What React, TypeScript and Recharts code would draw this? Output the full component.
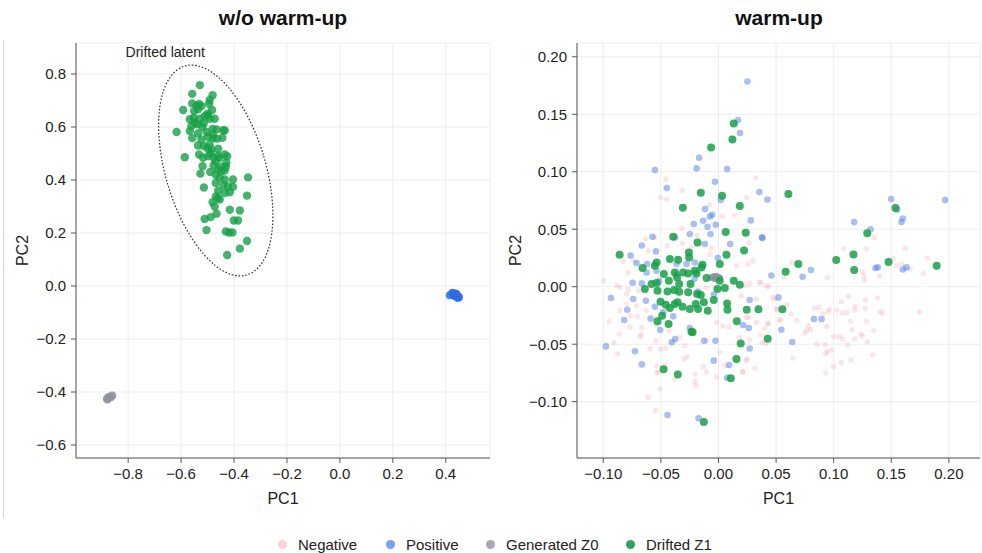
import React from 'react';
import {
  ScatterChart,
  Scatter,
  XAxis,
  YAxis,
  CartesianGrid,
  ReferenceDot,
  Label,
} from 'recharts';

// ---- left panel (w/o warm-up) ----
const leftDrifted: [number, number][] = [
  [-0.529, 0.758], [-0.558, 0.725], [-0.481, 0.72], [-0.592, 0.664], [-0.558, 0.689], [-0.532, 0.687],
  [-0.523, 0.679], [-0.542, 0.679], [-0.492, 0.702], [-0.494, 0.688], [-0.483, 0.664], [-0.551, 0.66],
  [-0.536, 0.667], [-0.567, 0.629], [-0.552, 0.635], [-0.529, 0.631], [-0.511, 0.641], [-0.498, 0.644],
  [-0.492, 0.631], [-0.473, 0.631], [-0.561, 0.604], [-0.548, 0.616], [-0.54, 0.61], [-0.514, 0.614],
  [-0.617, 0.581], [-0.567, 0.585], [-0.536, 0.576], [-0.504, 0.581], [-0.481, 0.593], [-0.466, 0.591],
  [-0.441, 0.588], [-0.435, 0.587], [-0.558, 0.558], [-0.523, 0.553], [-0.498, 0.563], [-0.479, 0.558],
  [-0.464, 0.556], [-0.444, 0.559], [-0.536, 0.53], [-0.514, 0.528], [-0.492, 0.534], [-0.485, 0.515],
  [-0.46, 0.518], [-0.586, 0.486], [-0.532, 0.496], [-0.517, 0.484], [-0.498, 0.49], [-0.489, 0.5],
  [-0.477, 0.484], [-0.46, 0.492], [-0.454, 0.484], [-0.435, 0.496], [-0.426, 0.49], [-0.519, 0.452],
  [-0.477, 0.455], [-0.46, 0.439], [-0.429, 0.465], [-0.431, 0.45], [-0.527, 0.424], [-0.469, 0.42],
  [-0.448, 0.433], [-0.435, 0.436], [-0.454, 0.408], [-0.435, 0.402], [-0.404, 0.402], [-0.347, 0.41],
  [-0.469, 0.389], [-0.514, 0.372], [-0.423, 0.376], [-0.404, 0.374], [-0.469, 0.338], [-0.46, 0.332],
  [-0.435, 0.351], [-0.416, 0.354], [-0.351, 0.341], [-0.481, 0.316], [-0.473, 0.3], [-0.454, 0.326],
  [-0.466, 0.273], [-0.488, 0.26], [-0.511, 0.253], [-0.416, 0.288], [-0.378, 0.285], [-0.401, 0.247],
  [-0.385, 0.247], [-0.504, 0.211], [-0.431, 0.206], [-0.419, 0.202], [-0.406, 0.202], [-0.351, 0.17],
  [-0.378, 0.141], [-0.426, 0.117], [-0.5, 0.65], [-0.52, 0.6], [-0.48, 0.57], [-0.5, 0.52],
  [-0.47, 0.47], [-0.45, 0.45], [-0.49, 0.43], [-0.44, 0.38], [-0.46, 0.36],
];
const leftPositive: [number, number][] = [
  [0.415, -0.035], [0.425, -0.025], [0.43, -0.03], [0.435, -0.035], [0.44, -0.04], [0.445, -0.045],
  [0.44, -0.03], [0.437, -0.028], [0.445, -0.038], [0.45, -0.042], [0.432, -0.038], [0.428, -0.03],
];
const leftGenerated: [number, number][] = [
  [-0.88, -0.425], [-0.875, -0.42], [-0.87, -0.418], [-0.86, -0.413], [-0.878, -0.428], [-0.865, -0.42],
];

// ---- right panel (warm-up) ----
const rightNegative: [number, number][] = [
  [-0.0457, 0.0937], [-0.0503, 0.0774], [-0.0451, 0.0759], [-0.0315, 0.0835], [-0.0078, 0.0713], [0.0035, 0.0611],
  [0.0141, 0.0623], [0.0243, 0.0777], [0.0323, 0.0945], [-0.0318, 0.0507], [-0.0185, 0.0446],
  [0.1086, 0.0333], [0.1282, 0.0328], [0.1354, 0.0429], [0.1623, 0.0333], [0.1816, 0.0249], [0.0638, 0.0211],
  [0.1513, 0.0241], [0.1548, 0.0183], [0.1591, 0.0197], [0.1664, 0.0154], [0.1779, 0.0116], [0.1248, 0.013],
  [0.1262, 0.0096], [0.1268, 0.0058], [0.1398, 0.0096], [0.0945, 0.0081], [0.0566, 0.0087], [0.0438, 0.0],
  [0.0358, 0.0037], [0.0468, -0.0093], [0.0594, -0.0157], [0.0511, -0.0203], [0.0633, -0.0237], [0.1129, -0.0084],
  [0.1383, -0.0098], [0.1276, -0.0116], [0.1066, -0.0128], [0.1187, -0.0171], [0.1274, -0.0189], [0.0834, -0.0189],
  [0.0872, -0.018], [0.0964, -0.0197], [0.1028, -0.0203], [0.0906, -0.0237], [0.095, -0.0217], [0.1075, -0.0229],
  [0.1115, -0.0223], [0.1184, -0.0203], [0.1406, -0.0217], [0.1421, -0.0232], [0.1744, -0.0223], [0.054, -0.0281],
  [0.0681, -0.0296], [0.078, -0.0339], [0.0763, -0.0383], [0.0797, -0.0374], [0.0748, -0.0403], [0.0941, -0.0348],
  [0.1149, -0.0301], [0.1282, -0.0301], [0.1161, -0.0374], [0.1349, -0.0383], [0.1236, -0.0412], [0.1248, -0.0429],
  [0.0999, -0.0435], [0.1045, -0.0432], [0.1075, -0.0455], [0.1123, -0.0507], [0.1181, -0.0455], [0.1291, -0.0476],
  [0.0927, -0.0504], [0.0854, -0.0498], [0.0979, -0.055], [0.0945, -0.0563], [0.093, -0.058], [0.1153, -0.0637],
  [0.1066, -0.0661], [0.134, -0.0591], [0.0999, -0.0693], [0.093, -0.075], [0.0646, -0.062], [0.0401, -0.0362],
  [0.043, -0.0319], [0.0373, -0.042], [0.041, -0.0493],
  [-0.0535, -0.0748], [-0.0509, -0.089], [-0.0379, -0.0806], [-0.0203, -0.0759], [-0.0203, -0.0823], [-0.0104, -0.0742],
  [-0.0017, -0.0785], [0.0213, -0.0739], [-0.0549, -0.1076],
  [-0.063, 0.0415], [-0.0552, 0.0429], [-0.0445, 0.0357], [-0.0312, 0.0377], [-0.0234, 0.0342], [-0.0061, 0.0336],
  [0.0265, 0.038], [0.0295, 0.0226], [-0.0827, 0.022], [-0.0734, 0.0226], [-0.061, 0.0313], [-0.0783, 0.0124],
  [-0.0884, 0.0009], [-0.0855, -0.0006], [-0.0783, -0.002], [-0.0797, -0.0064], [-0.0697, -0.0035], [-0.0855, -0.0209],
  [-0.0797, -0.015], [-0.0711, -0.0165], [-0.0705, -0.0261], [-0.0624, -0.0209], [-0.0769, -0.0354], [-0.0861, -0.0412],
  [-0.0907, -0.0487], [-0.0875, -0.0585], [-0.0682, -0.0435], [-0.0671, -0.0417], [-0.0595, -0.0542], [-0.0543, -0.047],
  [-0.0503, -0.0542], [-0.0457, -0.0533], [-0.0537, -0.0333], [-0.0428, -0.0383], [-0.0335, -0.0441], [-0.0292, -0.0513],
  [-0.0269, -0.0609], [-0.0537, -0.0687], [-0.0523, -0.0745], [-0.0133, -0.0696], [-0.0104, -0.047], [0.0011, -0.0571],
  [0.0055, -0.0687], [0.0092, -0.0354], [0.004, -0.0339], [-0.0017, -0.031], [0.0243, -0.0267], [0.0265, -0.0267],
  [0.0329, -0.031], [0.0185, -0.0441], [0.0271, -0.0464], [0.0381, -0.0484], [0.0243, -0.0643], [0.0248, -0.0629],
  [0.0208, -0.0737], [0.0315, -0.071], [0.043, -0.0325], [0.0364, 0.0037], [0.0271, 0.0029], [0.0228, 0.0015],
  [0.0416, 0.0009], [0.0199, -0.0078], [0.0329, -0.0107], [0.0503, -0.0194], [-0.0205, -0.0064], [-0.0104, -0.0006],
  [-0.0509, 0.0081], [-0.0667, -0.0354], [-0.0465, -0.0687], [-0.0197, -0.0861], [-0.0301, -0.0629], [-0.061, -0.0963],
  [-0.0075, 0.0284], [0.0156, 0.0183], [0.0256, 0.0197], [-0.0763, -0.0252], [0.0531, -0.0296], [0.0488, -0.0107],
  [-0.095, -0.03], [-0.1, 0.005],
];
const rightPositive: [number, number][] = [
  [0.0251, 0.1785], [0.017, 0.145], [0.0187, 0.1337], [-0.0168, 0.1122], [-0.019, 0.1029], [0.0075, 0.1023],
  [-0.0552, 0.1015], [-0.0448, 0.0858], [-0.003, 0.0913], [0.0355, 0.0823], [0.0425, 0.0759], [0.002, 0.0754],
  [-0.0116, 0.0675], [-0.0055, 0.0626], [-0.0075, 0.0611], [-0.0133, 0.0574], [0.028, 0.0577], [-0.0214, 0.0545],
  [-0.0095, 0.0522], [-0.0023, 0.0539], [-0.0573, 0.0435], [-0.0376, 0.0429], [-0.0249, 0.0458], [-0.0069, 0.0458],
  [0.0378, 0.0429], [-0.0665, 0.0359], [-0.0119, 0.0371], [0.0101, 0.0371], [-0.0763, 0.027], [-0.0711, 0.0206],
  [-0.0619, 0.0197], [-0.0543, 0.0307], [-0.0364, 0.0197], [-0.0277, 0.0197], [-0.0205, 0.0211], [-0.0006, 0.025],
  [-0.0624, 0.0124], [-0.0537, 0.0139], [-0.0364, 0.011], [-0.0208, 0.0067], [-0.0041, 0.009], [0.0459, 0.0098],
  [-0.0745, 0.0035], [-0.0665, 0.0029], [-0.0517, 0.0046], [-0.0933, -0.0098], [-0.074, -0.0107], [-0.063, -0.0122],
  [-0.0177, -0.0041], [-0.0041, -0.007], [0.0271, -0.0116], [0.052, -0.0093], [-0.0792, -0.02], [-0.0552, -0.0174],
  [-0.048, -0.0223], [-0.0818, -0.029], [-0.0589, -0.0278], [-0.0393, -0.0258], [-0.0506, -0.0377], [-0.0249, -0.0359],
  [0.0213, -0.0333], [0.0263, -0.0359], [0.0546, -0.0374], [-0.0376, -0.0455], [-0.0405, -0.0484], [-0.0125, -0.047],
  [-0.0026, -0.047], [-0.0977, -0.0519], [-0.0725, -0.0562], [0.0271, -0.0537], [-0.0665, -0.0676], [-0.0041, -0.0643],
  [0.0092, -0.0681], [0.0075, -0.0792], [-0.0442, -0.1116], [-0.0173, -0.1145],
  [0.1499, 0.0763], [0.1967, 0.0754], [0.1551, 0.067], [0.16, 0.0594], [0.1588, 0.0562], [0.1178, 0.0562],
  [0.132, 0.0499], [0.0381, 0.0423], [0.0803, 0.0145], [0.073, 0.0087], [0.1363, 0.0163], [0.1383, 0.0168],
  [0.16, 0.015], [0.1632, 0.0168], [0.0829, -0.0281], [0.0895, -0.0281], [0.0641, -0.0481],
];
const rightGenerated: [number, number][] = [
  [-0.006, 0.008], [-0.004, 0.0085], [-0.002, 0.009], [0.0, 0.008], [0.001, 0.0075], [-0.003, 0.007],
];
const rightDrifted: [number, number][] = [
  [0.0133, 0.142], [0.0121, 0.128], [-0.0064, 0.1211], [-0.0153, 0.0817], [0.0031, 0.0791], [-0.0309, 0.0687],
  [0.0185, 0.0702], [0.0063, 0.0476], [0.0237, 0.047], [0.0607, 0.0806], [-0.0393, 0.0435], [-0.0182, 0.0385],
  [0.0222, 0.0316], [-0.0858, 0.0278], [-0.0257, 0.0298], [-0.0255, 0.0255], [-0.0422, 0.0241], [-0.035, 0.0235],
  [-0.0537, 0.0211], [-0.0659, 0.0163], [-0.0552, 0.0183], [-0.0139, 0.0191], [-0.0147, 0.0168], [0.0011, 0.0197],
  [0.0069, 0.0278], [-0.0474, 0.011], [-0.0379, 0.0124], [-0.0307, 0.0124], [-0.0205, 0.0139], [-0.0359, 0.0081],
  [-0.0263, 0.0116], [-0.0191, 0.0116], [-0.0431, 0.0052], [-0.0341, 0.0023], [-0.0243, 0.0023], [-0.0104, 0.0076],
  [0.0011, 0.0052], [0.0133, 0.0052], [0.0185, 0.0017], [0.0583, 0.013], [-0.0581, 0.0023], [-0.0537, 0.0032],
  [-0.0639, -0.002], [-0.0529, -0.0035], [-0.0442, -0.0041], [-0.0385, -0.0029], [-0.0341, -0.0043], [-0.0263, -0.0049],
  [-0.0185, -0.0064], [-0.0009, -0.002], [0.0055, -0.0012], [-0.0153, -0.0073], [-0.0503, -0.013], [-0.0457, -0.0157],
  [-0.0379, -0.0151], [-0.0355, -0.0136], [-0.0312, -0.0174], [-0.0197, -0.0151], [-0.0127, -0.0136], [-0.0041, -0.0116],
  [0.0075, -0.0145], [-0.0422, -0.0186], [-0.0249, -0.0194], [-0.0177, -0.0194], [-0.0093, -0.0209], [0.0078, -0.02],
  [0.0245, -0.02], [0.0347, -0.0197], [0.0555, -0.0197], [-0.0489, -0.0252], [-0.0529, -0.0301], [-0.0433, -0.0325],
  [0.0159, -0.0301], [-0.0234, -0.0391], [-0.0225, -0.0397], [0.0427, -0.0452], [0.0193, -0.0493], [0.0156, -0.0629],
  [-0.0477, -0.0719], [-0.0353, -0.0763], [0.0107, -0.0797], [-0.0127, -0.1177],
  [0.1536, 0.0684], [0.1291, 0.0464], [0.1172, 0.0281], [0.1022, 0.0232], [0.1178, 0.0145], [0.1476, 0.0215],
  [0.1894, 0.0183], [0.0693, 0.0197],
];

// axis ticks
const leftXTicks = [-0.8, -0.6, -0.4, -0.2, 0, 0.2, 0.4];
const leftYTicks = [-0.6, -0.4, -0.2, 0, 0.2, 0.4, 0.6, 0.8];
const rightXTicks = [-0.1, -0.05, 0, 0.05, 0.1, 0.15, 0.2];
const rightYTicks = [-0.1, -0.05, 0, 0.05, 0.1, 0.15, 0.2];

const legendItems = [
  { name: 'Negative', color: '#f9d3d5' },
  { name: 'Positive', color: '#7b9ef0' },
  { name: 'Generated Z0', color: '#a5aab3' },
  { name: 'Drifted Z1', color: '#2da55b' },
];

const FONT = '"Liberation Sans", Arial, Helvetica, sans-serif';
const toPts = (arr: [number, number][]) => arr.map(([x, y]) => ({ x, y }));
const fmt = (d: number) => (v: number) => v.toFixed(d).replace('-', '\u2212');

const dot = (r: number, fill: string, op: number) => (p: any) =>
  <circle cx={p.cx} cy={p.cy} r={r} fill={fill} fillOpacity={op} />;

const axisProps = {
  stroke: '#555',
  tickSize: 5,
  tickMargin: 5,
  tick: { fill: '#222', fontSize: 15, fontFamily: FONT },
};

const PanelLabelY = ({ dx }: { dx: number }) => (
  <Label
    value="PC2"
    angle={-90}
    position="insideLeft"
    offset={dx}
    style={{ textAnchor: 'middle', fill: '#222', fontSize: 16, fontFamily: FONT }}
  />
);

export default function App() {
  return (
    <div style={{ position: 'absolute', left: 0, top: 0, width: 982, height: 553, background: '#fff', fontFamily: FONT, overflow: 'hidden' }}>
      <div style={{ position: 'absolute', left: 3, top: 40, width: 1, height: 478, background: '#d4d4d4' }} />
      <div style={{ position: 'absolute', left: 183, top: 6, width: 200, textAlign: 'center', fontSize: 21, fontWeight: 'bold', color: '#111' }}>w/o warm-up</div>
      <div style={{ position: 'absolute', left: 679, top: 6, width: 200, textAlign: 'center', fontSize: 21, fontWeight: 'bold', color: '#111' }}>warm-up</div>

      <div style={{ position: 'absolute', left: 0, top: 0 }}>
        <ScatterChart width={500} height={520} margin={{ top: 43, right: 10, bottom: 12, left: 0 }}>
          <CartesianGrid stroke="#ededed" />
          <XAxis type="number" dataKey="x" domain={[-0.997, 0.567]} ticks={leftXTicks} tickFormatter={fmt(1)}
            allowDataOverflow height={50} {...axisProps}>
            <Label value="PC1" position="insideBottom" offset={4} style={{ fill: '#222', fontSize: 16, fontFamily: FONT }} />
          </XAxis>
          <YAxis type="number" dataKey="y" domain={[-0.649, 0.917]} ticks={leftYTicks} tickFormatter={fmt(1)}
            allowDataOverflow width={76} {...axisProps}>
            {PanelLabelY({ dx: 22 })}
          </YAxis>
          <Scatter data={toPts(leftPositive)} isAnimationActive={false} shape={dot(4, '#2e6be4', 0.85)} />
          <Scatter data={toPts(leftGenerated)} isAnimationActive={false} shape={dot(4, '#8e939d', 0.85)} />
          <Scatter data={toPts(leftDrifted)} isAnimationActive={false} shape={dot(4.2, '#17a046', 0.8)} />
          <ReferenceDot x={-0.469} y={0.436} r={1} isFront
            shape={(p: any) => (
              <ellipse cx={p.cx} cy={p.cy} rx={50} ry={109} transform={`rotate(-16.6 ${p.cx} ${p.cy})`}
                fill="none" stroke="#1f3447" strokeWidth={1.2} strokeDasharray="1.6 1.8" />
            )} />
          <ReferenceDot x={-0.66} y={0.883} r={1}
            shape={(p: any) => (
              <text x={p.cx} y={p.cy + 5} textAnchor="middle" fontSize={14} fill="#222" fontFamily={FONT}>Drifted latent</text>
            )} />
        </ScatterChart>
      </div>

      <div style={{ position: 'absolute', left: 500, top: 0 }}>
        <ScatterChart width={482} height={520} margin={{ top: 43, right: 2, bottom: 12, left: 0 }}>
          <CartesianGrid stroke="#ededed" />
          <XAxis type="number" dataKey="x" domain={[-0.1228, 0.227]} ticks={rightXTicks} tickFormatter={fmt(2)}
            allowDataOverflow height={50} {...axisProps}>
            <Label value="PC1" position="insideBottom" offset={4} style={{ fill: '#222', fontSize: 16, fontFamily: FONT }} />
          </XAxis>
          <YAxis type="number" dataKey="y" domain={[-0.149, 0.212]} ticks={rightYTicks} tickFormatter={fmt(2)}
            allowDataOverflow width={77} {...axisProps}>
            {PanelLabelY({ dx: 15 })}
          </YAxis>
          <Scatter data={toPts(rightNegative)} isAnimationActive={false} shape={dot(2.7, '#f5a9b0', 0.3)} />
          <Scatter data={toPts(rightPositive)} isAnimationActive={false} shape={dot(3.3, '#4f7fe8', 0.5)} />
          <Scatter data={toPts(rightGenerated)} isAnimationActive={false} shape={dot(3.5, '#8e939d', 0.85)} />
          <Scatter data={toPts(rightDrifted)} isAnimationActive={false} shape={dot(4, '#17a046', 0.85)} />
        </ScatterChart>
      </div>

      {legendItems.map((it, i) => (
        <div key={it.name} style={{ position: 'absolute', left: [277.5, 385.5, 485.5, 625.5][i], top: 536, display: 'flex', alignItems: 'center', fontSize: 15, color: '#222', whiteSpace: 'nowrap' }}>
          <span style={{ width: 9, height: 9, borderRadius: '50%', background: it.color, display: 'inline-block', marginRight: 11.5 }} />
          {it.name}
        </div>
      ))}
    </div>
  );
}
